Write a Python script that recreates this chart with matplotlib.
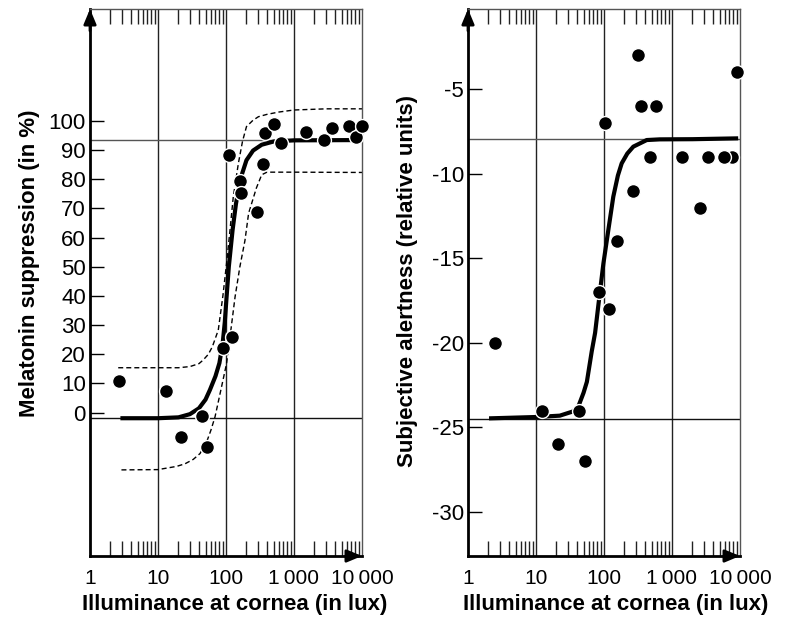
import matplotlib
matplotlib.use("Agg")
import matplotlib.pyplot as plt
from matplotlib.ticker import FixedLocator, NullFormatter

plt.rcParams['font.family'] = ['Liberation Sans', 'DejaVu Sans']

# decade positions and labels shared by both panels
decades = [1, 10, 100, 1000, 10000]
decade_labels = ["1", "10", "100", "1\u2009000", "10\u2009000"]
grid_lux = [10, 100, 1000]

# left panel: melatonin suppression
mel_lux = [2.67, 13, 21.8, 44.9, 52, 91.4, 124, 110.6, 160.7, 166, 282,
           346, 378, 514, 637, 1500, 2760, 3660, 6440, 8260, 9890]
mel_val = [11, 7.5, -8.2, -1.2, -11.7, 22.3, 25.8, 88.3, 79.5, 75.1, 68.7,
           85.1, 95.9, 98.8, 92.3, 96.1, 93.5, 97.5, 98.1, 94.3, 98.2]

mel_fit_lux = [2.8, 10, 20, 29.5, 40, 50, 58, 70, 80, 89.4, 96, 102, 110,
               125, 140, 161, 200, 250, 335, 500, 1000, 10000]
mel_fit_val = [-1.9, -1.9, -1.6, -0.5, 1.5, 4.5, 7.8, 12.5, 17, 23.8, 31,
               39.7, 50, 62.6, 71.5, 79.7, 86.5, 89.8, 91.8, 92.9, 93.3, 93.4]

mel_hi_lux = [2.6, 20, 29.5, 40, 46, 55, 63, 77, 90, 102, 115, 128, 152,
              175, 200, 250, 300, 400, 600, 1000, 3000, 10000]
mel_hi_val = [15.4, 15.4, 15.8, 16.8, 18, 20, 22.6, 28.3, 40, 51.2, 63, 74,
              85.4, 93, 98, 100.2, 101.4, 102.2, 103, 103.7, 104.1, 104.1]

mel_lo_lux = [2.9, 10, 18.8, 25, 33, 41.5, 52, 60, 69, 85, 102, 120, 136,
              160, 190, 215, 280, 335, 400, 1000, 10000]
mel_lo_val = [-19.6, -19.5, -18.4, -17.5, -16, -14, -10, -6, -1.4, 8.3, 16.9,
              29.7, 39.7, 50, 59, 68.3, 77, 81.5, 82.4, 82.4, 82.3]

mel_ref = [93.4, -1.9]
mel_ticks = [0, 10, 20, 30, 40, 50, 60, 70, 80, 90, 100]

# right panel: subjective alertness
alert_lux = [2.5, 12.4, 21.3, 43.4, 52.6, 85.3, 103, 120, 157, 270, 319,
             347, 475, 575, 1387, 2580, 3420, 7550, 5890, 8930]
alert_val = [-20, -24, -26, -24, -27, -17, -7, -18, -14, -11, -3,
             -6, -9, -6, -9, -12, -9, -9, -9, -4]

alert_fit_lux = [2.04, 10, 22.4, 35, 42, 50, 56, 66, 74, 83, 98, 116, 137,
                 160, 182, 220, 270, 425, 660, 2000, 9400]
alert_fit_val = [-24.46, -24.38, -24.3, -24.05, -23.75, -22.95, -22.3, -20.5,
                 -19.4, -17.7, -15.3, -13.3, -11.35, -10.1, -9.38, -8.8,
                 -8.39, -8.0, -7.96, -7.95, -7.9]

alert_ref = [-7.96, -24.47]
alert_ticks = [-5, -10, -15, -20, -25, -30]


def style_axes(ax, ylim, yticks, ylabel, xlabel_x, ylabel_y):
    ax.set_xscale("log")
    ax.set_xlim(1, 10000)
    ax.set_ylim(*ylim)

    for lux in grid_lux:
        ax.axvline(lux, color="#222222", lw=1.0, zorder=1)

    ax.xaxis.set_major_locator(FixedLocator(decades))
    ax.set_xticklabels(decade_labels)
    minors = [m * d for d in decades[:-1] for m in range(2, 10)]
    ax.xaxis.set_minor_locator(FixedLocator(minors))
    ax.xaxis.set_minor_formatter(NullFormatter())
    ax.tick_params(axis="x", which="major", length=0, pad=9, labelsize=15)
    ax.tick_params(axis="x", which="minor", direction="in", length=10.5,
                   width=1.0, top=True, bottom=True, color="#222222")

    ax.set_yticks(yticks)
    ax.set_yticklabels([str(t) for t in yticks])
    ax.tick_params(axis="y", which="major", direction="in", length=10,
                   width=1.0, pad=3, labelsize=16, right=False)

    for side in ["left", "bottom"]:
        ax.spines[side].set_linewidth(2.0)
        ax.spines[side].set_color("black")
    for side in ["top", "right"]:
        ax.spines[side].set_linewidth(1.0)
        ax.spines[side].set_color("#555555")

    arrow = dict(arrowstyle="-|>,head_length=0.6,head_width=0.25",
                 color="black", lw=2, shrinkA=0, shrinkB=0,
                 mutation_scale=15)
    ax.annotate("", xy=(0, 1.0), xytext=(0, 0.96), xycoords="axes fraction",
                arrowprops=arrow, annotation_clip=False)
    ax.annotate("", xy=(1.0, 0), xytext=(0.94, 0), xycoords="axes fraction",
                arrowprops=arrow, annotation_clip=False)

    ax.set_xlabel("Illuminance at cornea (in lux)", fontsize=16,
                  fontweight="bold")
    ax.set_ylabel(ylabel, fontsize=16, fontweight="bold")
    ax.xaxis.set_label_coords(xlabel_x, -0.07)
    ax.yaxis.set_label_coords(-0.184, ylabel_y)


fig = plt.figure(figsize=(7.86, 6.18), dpi=100)
ax1 = fig.add_axes([90 / 786, 1 - 556 / 618, 272 / 786, 547 / 618])
ax2 = fig.add_axes([468 / 786, 1 - 556 / 618, 272 / 786, 547 / 618])

style_axes(ax1, (-49.1, 138.3), mel_ticks, "Melatonin suppression (in %)",
           0.533, 0.536)
for v, c in zip(mel_ref, ["#555555", "#111111"]):
    ax1.axhline(v, color=c, lw=1.0, zorder=1)
ax1.plot(mel_hi_lux, mel_hi_val, color="black", lw=1.0, dashes=(3.6, 2.2),
         zorder=2)
ax1.plot(mel_lo_lux, mel_lo_val, color="black", lw=1.0, dashes=(3.6, 2.2),
         zorder=2)
ax1.plot(mel_fit_lux, mel_fit_val, color="black", lw=3.0, zorder=3,
         solid_capstyle="butt")
ax1.plot(mel_lux, mel_val, "o", color="black", ms=10, mec="white", mew=1.0,
         zorder=4, clip_on=False)

style_axes(ax2, (-32.6, -0.25), alert_ticks,
           "Subjective alertness (relative units)", 0.544, 0.503)
for v, c in zip(alert_ref, ["#555555", "#111111"]):
    ax2.axhline(v, color=c, lw=1.0, zorder=1)
ax2.plot(alert_fit_lux, alert_fit_val, color="black", lw=3.0, zorder=3,
         solid_capstyle="butt")
ax2.plot(alert_lux, alert_val, "o", color="black", ms=10, mec="white",
         mew=1.0, zorder=4, clip_on=False)

fig.savefig("out.png", dpi=100, facecolor="white")
